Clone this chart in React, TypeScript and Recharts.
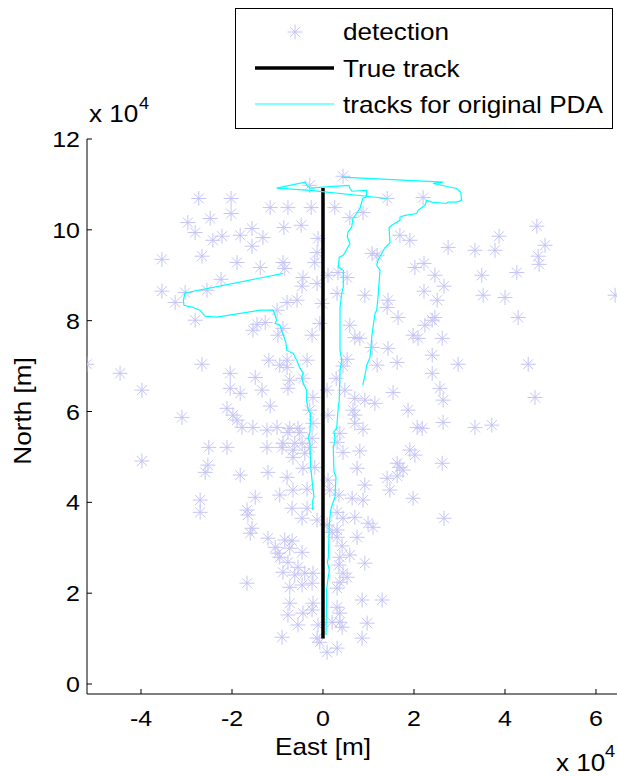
import React from 'react';
import { ScatterChart, Scatter, XAxis, YAxis, Legend } from 'recharts';

// units: 10^4 m
const xTicks = [-4, -2, 0, 2, 4, 6];
const yTicks = [0, 2, 4, 6, 8, 10, 12];

const detectionPoints: [number, number][] = [
  [0.44, 11.18], [-0.29, 10.98], [1.41, 10.69], [2.2, 10.71], [-2.73, 10.69], [-2.02, 10.69], [-2.02, 10.36],
  [-1.16, 10.49], [-0.77, 10.49], [-0.26, 10.49], [0.26, 10.49], [-2.97, 10.16], [-2.81, 9.94], [-2.48, 10.25],
  [-2.42, 9.77], [-2.22, 9.86], [-1.82, 9.88], [-1.56, 10.03], [-1.56, 9.64], [-1.32, 9.83], [-0.86, 10.05],
  [-0.48, 10.1], [-0.11, 9.81], [-0.13, 9.5], [0.59, 10.27], [0.88, 10.38], [1.69, 9.88], [1.91, 9.77],
  [1.08, 9.48], [1.19, 9.44], [2.75, 9.61], [3.34, 9.55], [3.78, 9.55], [3.87, 9.86], [4.7, 10.08],
  [4.88, 9.66], [4.73, 9.42], [4.75, 9.24],
  [-0.18, 9.28], [-3.54, 9.35], [-2.66, 9.42], [-1.89, 9.28], [-1.38, 9.17], [-0.88, 9.28], [-0.84, 9.15],
  [-2.24, 8.91], [-0.44, 8.95], [-0.46, 8.76], [-0.13, 8.82], [0.11, 9.0], [0.53, 8.95], [0.33, 9.06],
  [2.02, 9.17], [2.22, 9.26], [2.46, 9.0], [2.66, 8.76], [3.49, 9.0], [4.26, 9.06], [-3.54, 8.65],
  [-3.25, 8.4], [-2.55, 8.67], [-3.03, 8.62], [-0.79, 8.4], [-0.57, 8.45], [-0.02, 8.38], [0.31, 8.6],
  [0.92, 8.56], [1.43, 8.45], [2.22, 8.65], [2.51, 8.45], [3.52, 8.56], [4.0, 8.51], [6.42, 8.56],
  [-2.81, 8.01], [-0.88, 7.83], [-1.54, 7.79], [-1.45, 7.92], [-1.27, 7.96], [-0.24, 7.68], [-0.07, 7.94],
  [0.59, 7.9], [0.7, 7.63], [0.81, 7.61], [1.41, 8.29], [1.65, 8.07], [2.46, 8.07], [2.24, 7.9],
  [2.4, 8.01], [4.29, 8.07], [1.98, 7.68], [2.09, 7.61], [2.62, 7.61], [1.43, 7.39], [1.08, 7.41],
  [-1.01, 8.23], [-0.99, 7.68], [0.53, 7.15], [0.44, 7.0], [1.19, 7.02], [1.63, 7.08], [2.4, 7.24],
  [2.4, 6.84], [2.97, 7.04], [4.51, 7.04], [-1.19, 7.13], [-0.79, 7.13], [-0.95, 7.02], [-0.79, 6.97],
  [-0.35, 7.13], [-2.66, 7.04], [-5.19, 7.04], [-4.46, 6.84],
  [-3.98, 6.47], [-3.1, 5.87], [-2.04, 6.84], [-2.04, 6.51], [-1.82, 6.4], [-1.49, 6.75], [-1.34, 6.47],
  [-1.16, 6.12], [-0.73, 6.69], [-0.77, 6.51], [-0.44, 6.73], [-0.22, 6.31], [-0.29, 6.03], [0.09, 6.47],
  [0.29, 6.73], [0.48, 6.47], [0.7, 6.29], [0.7, 5.92], [1.54, 6.42], [2.57, 6.51], [2.64, 6.25],
  [4.66, 6.31], [0.92, 6.25], [1.14, 6.18], [0.66, 6.03], [1.87, 6.03], [-2.11, 6.07], [-1.98, 5.92],
  [-1.89, 5.81], [-1.78, 5.65], [-1.54, 5.65], [-1.23, 5.59], [-1.01, 5.65], [-0.73, 5.63], [-0.55, 5.63],
  [-0.22, 5.74], [0.11, 5.92], [0.37, 5.52], [0.7, 5.74], [2.07, 5.65], [2.18, 5.63], [2.64, 5.76],
  [3.34, 5.65], [3.71, 5.7], [0.88, 5.61],
  [-2.51, 5.21], [-2.11, 5.21], [-1.23, 5.21], [-0.9, 5.21], [-0.66, 5.15], [-0.46, 5.3], [0.44, 5.1],
  [0.31, 5.32], [-0.29, 5.21], [-3.98, 4.91], [0.81, 5.13], [1.91, 5.15], [2.02, 5.04], [-0.77, 5.54],
  [-0.51, 5.54], [-0.24, 5.41], [-0.88, 5.3], [-0.62, 5.3], [-0.66, 4.99], [-0.4, 5.08], [-0.44, 4.75],
  [-0.18, 4.77], [0.75, 4.75], [1.63, 4.86], [1.41, 4.53], [1.47, 4.27], [-1.21, 4.66], [-0.79, 4.55],
  [-0.66, 4.27], [-0.95, 4.16], [0.11, 4.49], [0.15, 4.27], [0.92, 4.38], [0.64, 4.09], [0.88, 4.05],
  [-1.49, 4.11], [-1.82, 4.6], [1.69, 4.77], [1.76, 4.71], [1.63, 4.58], [2.62, 4.86], [-0.35, 4.29],
  [0.35, 4.16], [1.98, 4.09], [-2.53, 4.82], [-2.59, 4.66], [-2.7, 4.05], [-2.7, 3.78],
  [-1.67, 3.83], [-1.65, 3.72], [-1.56, 3.43], [-1.6, 3.32], [-1.21, 3.21], [-1.05, 3.01], [-0.99, 2.88],
  [-0.35, 3.87], [-0.68, 3.87], [0.31, 3.78], [0.7, 3.67], [0.44, 3.65], [-0.46, 3.65], [-0.13, 3.61],
  [0.99, 3.54], [0.09, 3.5], [2.66, 3.65], [1.1, 3.45], [0.75, 3.23], [0.31, 3.23], [0.42, 3.04],
  [0.59, 2.84], [0.92, 2.66], [0.37, 2.79], [0.35, 2.62], [-0.46, 2.9], [-0.4, 2.44], [-0.22, 2.44],
  [0.44, 2.44], [0.37, 2.24], [0.31, 2.11], [-0.84, 3.17], [-0.68, 3.15], [-0.73, 2.99], [-0.77, 2.68],
  [-0.55, 2.57], [-0.88, 2.46], [-0.62, 2.4], [-0.24, 2.22], [-0.46, 2.18], [-0.73, 2.13], [-1.67, 2.22],
  [0.31, 3.39], [0.2, 3.34], [0.53, 2.35], [-0.95, 2.79],
  [-0.73, 1.78], [-0.22, 1.78], [-0.24, 1.63], [-0.44, 1.56], [-0.77, 1.52], [-0.55, 1.3], [-0.9, 1.03],
  [-0.11, 1.3], [-0.13, 1.01], [-0.07, 0.92], [0.09, 0.7], [0.31, 0.79], [0.37, 1.36], [0.31, 1.69],
  [0.37, 1.56], [0.97, 1.34], [0.86, 1.01], [0.86, 1.85], [1.3, 1.85], [0.42, 1.25], [0.2, 1.36],
];

const trueTrackPoints: [number, number][] = [[0, 1.0], [0, 10.92]];

const pdaTrackA: [number, number][] = [
  [-0.226, 3.83], [-0.226, 4.05], [-0.198, 4.12], [-0.226, 4.34], [-0.27, 4.78], [-0.286, 5.3], [-0.323, 5.41],
  [-0.286, 5.55], [-0.27, 5.96], [-0.323, 6.03], [-0.36, 6.25], [-0.358, 6.47], [-0.433, 6.62], [-0.468, 6.76],
  [-0.433, 6.84], [-0.505, 6.95], [-0.578, 7.13], [-0.615, 7.2], [-0.653, 7.28], [-0.798, 7.35], [-0.813, 7.5],
  [-0.857, 7.64], [-0.908, 7.78], [-0.945, 7.9], [-1.055, 7.94], [-1.018, 8.01], [-1.055, 8.12], [-1.092, 8.23],
  [-1.385, 8.23], [-2.336, 8.08], [-2.593, 8.1], [-2.703, 8.23], [-2.886, 8.3], [-3.055, 8.34], [-3.07, 8.45],
  [-3.033, 8.61], [-0.873, 9.04],
];

const pdaTrackB: [number, number][] = [
  [0.066, 1.08], [0.081, 2.11], [0.138, 2.51], [0.095, 2.69], [0.116, 2.77], [0.138, 3.5], [0.169, 3.83],
  [0.213, 3.98], [0.264, 4.12], [0.286, 4.56], [0.242, 4.67], [0.226, 5.19], [0.264, 5.41], [0.242, 5.55],
  [0.301, 5.63], [0.336, 6.1], [0.358, 6.25], [0.374, 6.91], [0.411, 7.13], [0.374, 7.35], [0.374, 8.27],
  [0.411, 8.6], [0.446, 8.74], [0.446, 9.11], [0.336, 9.18], [0.358, 9.4], [0.446, 9.44], [0.593, 9.7],
  [0.534, 9.84], [0.549, 9.95], [0.631, 10.06], [0.659, 10.25], [0.813, 10.47], [0.873, 10.69], [0.945, 10.72],
  [0.967, 10.87], [0.637, 10.85], [0.593, 10.91], [0.571, 10.98], [0.154, 10.95], [-0.286, 10.92], [-0.33, 10.96],
  [-0.396, 11.05], [-1.018, 10.92], [-0.286, 10.87], [0.96, 10.74], [1.4, 10.69],
];

const pdaTrackC: [number, number][] = [
  [0.873, 6.58], [0.923, 6.8], [0.96, 7.02], [1.033, 7.19], [1.055, 7.41], [1.07, 7.63], [1.099, 7.85],
  [1.143, 8.16], [1.18, 8.23], [1.209, 8.51], [1.231, 8.82], [1.253, 9.11], [1.18, 9.22], [1.209, 9.33],
  [1.29, 9.48], [1.363, 9.61], [1.473, 9.72], [1.451, 10.05], [1.51, 10.1], [1.692, 10.21], [1.692, 10.28],
  [1.802, 10.32], [2.059, 10.36], [2.088, 10.43], [2.242, 10.54], [2.279, 10.65], [2.389, 10.61], [2.719, 10.58],
  [2.747, 10.61], [2.938, 10.61], [3.048, 10.65], [3.026, 10.83], [2.938, 10.91], [2.418, 11.02], [2.644, 11.05],
  [0.411, 11.16],
];

const toObj = (arr: [number, number][]) => arr.map(([x, y]) => ({ x, y }));

const STAR_COLOR = '#c4c4f6';
const CYAN = '#00ffff';
const FONT = '"Liberation Sans", Arial, Helvetica, sans-serif';
const HSCALE = 1.136;

const AXIS_X = 87;   // y-axis line position (px)
const AXIS_Y = 694;  // x-axis line position (px)

// text drawn in a slightly wide Helvetica-like face, as in the original figure
const T = (p: { x: number; y: number; size?: number; anchor?: string; rotate?: boolean; children: React.ReactNode }) => (
  <text
    x={0}
    y={0}
    transform={`translate(${p.x},${p.y})${p.rotate ? ' rotate(-90)' : ''} scale(${HSCALE},1)`}
    textAnchor={p.anchor ?? 'start'}
    fontFamily={FONT}
    fontSize={p.size ?? 23}
    fill="#000"
  >
    {p.children}
  </text>
);

const Star = (props: any) => {
  const { cx, cy } = props;
  if (cx == null || cy == null) return <g />;
  const a = 7.5, d = 5;
  return (
    <path
      d={`M${cx - a},${cy}H${cx + a}M${cx},${cy - a}V${cy + a}M${cx - d},${cy - d}L${cx + d},${cy + d}M${cx - d},${cy + d}L${cx + d},${cy - d}`}
      stroke={STAR_COLOR}
      strokeWidth={1}
      fill="none"
    />
  );
};

const NoShape = () => <g />;

const XTick = (props: any) => {
  const x = props.payload?.coordinate ?? props.x;
  return (
    <g>
      <line x1={x} x2={x} y1={AXIS_Y} y2={AXIS_Y - 5} stroke="#000" strokeWidth={1} />
      <T x={x} y={AXIS_Y + 32} size={22} anchor="middle">{props.payload.value}</T>
    </g>
  );
};

const YTick = (props: any) => {
  const y = props.payload?.coordinate ?? props.y;
  return (
    <g>
      <line x1={AXIS_X} x2={AXIS_X + 5} y1={y} y2={y} stroke="#000" strokeWidth={1} />
      <T x={AXIS_X - 7} y={y + 8} size={22} anchor="end">{props.payload.value}</T>
    </g>
  );
};

const xLabel = () => (
  <g>
    <T x={323} y={755} anchor="middle">East [m]</T>
    <T x={556} y={771}>x 10</T>
    <T x={605} y={757} size={16}>4</T>
  </g>
);

const yLabel = () => (
  <g>
    <T x={31} y={411} anchor="middle" rotate>North [m]</T>
    <T x={89} y={122}>x 10</T>
    <T x={139} y={109} size={16}>4</T>
  </g>
);

const renderLegend = () => (
  <svg width={380} height={124} style={{ display: 'block' }}>
    <rect x={0.5} y={0.5} width={377} height={120} fill="#fff" stroke="#000" strokeWidth={1} />
    <Star cx={60} cy={24} />
    <T x={108} y={32}>detection</T>
    <line x1={20} x2={99} y1={60} y2={60} stroke="#000" strokeWidth={3.5} />
    <T x={108} y={69}>True track</T>
    <line x1={20} x2={99} y1={96} y2={96} stroke={CYAN} strokeWidth={1} />
    <T x={108} y={105}>tracks for original PDA</T>
  </svg>
);

export default function App() {
  return (
    <div style={{ position: 'absolute', left: 0, top: 0, width: 617, height: 776, overflow: 'hidden', background: '#fff' }}>
      <ScatterChart width={617} height={776} margin={{ top: 139, right: 0, bottom: 0, left: 0 }}>
        <XAxis
          type="number"
          dataKey="x"
          domain={[-5.187, 6.462]}
          allowDataOverflow
          ticks={xTicks}
          interval={0}
          height={82}
          tickLine={false}
          tickSize={0}
          axisLine={{ stroke: '#000', strokeWidth: 1 }}
          tick={<XTick />}
          label={xLabel}
        />
        <YAxis
          type="number"
          dataKey="y"
          domain={[-0.22, 12]}
          allowDataOverflow
          ticks={yTicks}
          interval={0}
          width={87}
          tickLine={false}
          tickSize={0}
          axisLine={{ stroke: '#000', strokeWidth: 1 }}
          tick={<YTick />}
          label={yLabel}
        />
        <Legend
          layout="horizontal"
          align="center"
          verticalAlign="middle"
          content={renderLegend}
          wrapperStyle={{ position: 'absolute', left: 235, top: 8, width: 380, height: 124 }}
        />
        <Scatter name="detection" data={toObj(detectionPoints)} shape={<Star />} isAnimationActive={false} />
        <Scatter name="True track" data={toObj(trueTrackPoints)} shape={<NoShape />} line={{ stroke: '#000', strokeWidth: 3.5 }} lineType="joint" isAnimationActive={false} />
        <Scatter name="tracks for original PDA" data={toObj(pdaTrackA)} shape={<NoShape />} line={{ stroke: CYAN, strokeWidth: 1.2 }} lineType="joint" isAnimationActive={false} />
        <Scatter name="PDA track 2" data={toObj(pdaTrackB)} shape={<NoShape />} line={{ stroke: CYAN, strokeWidth: 1.2 }} lineType="joint" isAnimationActive={false} />
        <Scatter name="PDA track 3" data={toObj(pdaTrackC)} shape={<NoShape />} line={{ stroke: CYAN, strokeWidth: 1.2 }} lineType="joint" isAnimationActive={false} />
      </ScatterChart>
    </div>
  );
}
